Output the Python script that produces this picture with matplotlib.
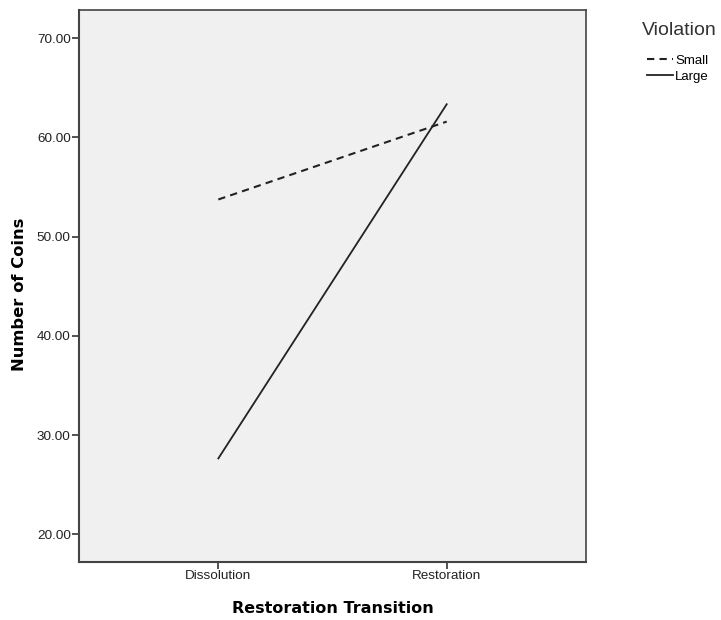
import matplotlib.pyplot as plt

plt.rcParams['font.family'] = ['Liberation Sans', 'DejaVu Sans']

categories = ['Dissolution', 'Restoration']
small = [53.75, 61.6]
large = [27.65, 63.35]
yticks = [20, 30, 40, 50, 60, 70]

fig = plt.figure(figsize=(7.21, 6.2), dpi=100)
ax = fig.add_axes([0.1096, 0.094, 0.7032, 0.8899])
ax.set_facecolor('#f0f0f0')

x = range(len(categories))
h1, = ax.plot(x, small, color='#222222', lw=1.5, ls=(0, (3.5, 2.5)), label='Small')
h2, = ax.plot(x, large, color='#222222', lw=1.3, label='Large')

ax.set_xlim(-0.61, 1.61)
ax.set_ylim(17.24, 72.85)
ax.set_xticks(list(x))
ax.set_xticklabels(categories, fontsize=9.7, color='#222222')
ax.set_yticks(yticks)
ax.set_yticklabels(['%.2f' % v for v in yticks], fontsize=9.7, color='#222222')
ax.tick_params(direction='out', length=5, width=1.3, color='#444444', pad=1)

for s in ax.spines.values():
    s.set_color('#444444')
    s.set_linewidth(1.2)
ax.spines['left'].set_linewidth(1.5)
ax.spines['bottom'].set_linewidth(1.5)

ax.set_xlabel('Restoration Transition', fontsize=11.5, fontweight='bold',
              family='DejaVu Sans', labelpad=14)
ax.set_ylabel('Number of Coins', fontsize=11.8, fontweight='bold',
              family='DejaVu Sans')
ax.yaxis.set_label_coords(-0.102, 0.484)

# legend title placed separately, entries below
fig.text(0.890, 0.951, 'Violation', fontsize=14, color='#333333', va='center')
leg = fig.legend(handles=[h1, h2], loc='upper left', bbox_to_anchor=(0.897, 0.912),
                 frameon=False, fontsize=9.5, handlelength=2.0,
                 handletextpad=0.15, labelspacing=0.3, borderaxespad=0,
                 borderpad=0)

fig.savefig('out.png', dpi=100)
